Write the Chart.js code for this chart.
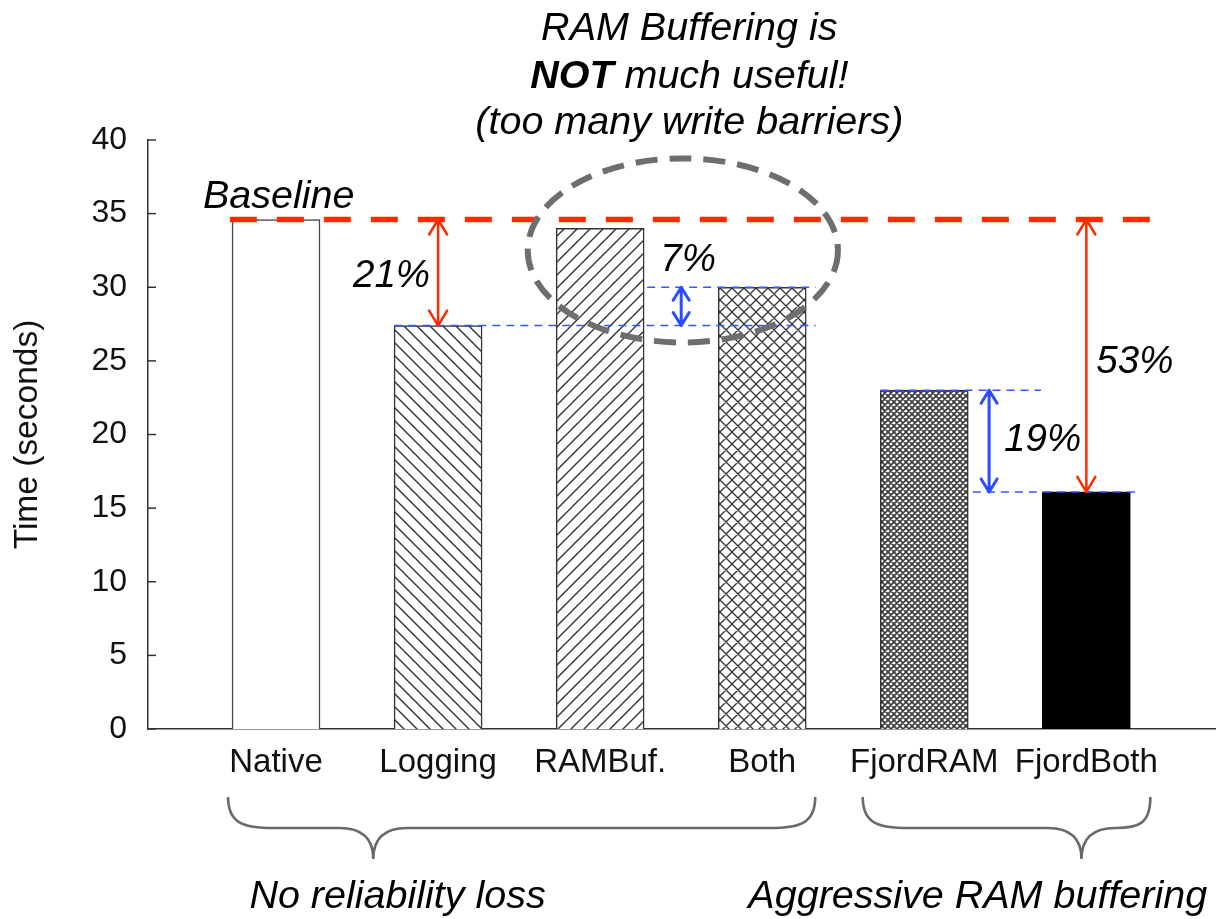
<!DOCTYPE html>
<html>
<head>
<meta charset="utf-8">
<script src="https://cdn.jsdelivr.net/npm/chart.js@4"></script>
<style>
  html, body { margin: 0; padding: 0; background: #fff; }
</style>
</head>
<body>
<canvas id="c" width="1216" height="919"></canvas>
<script>
// data
const categories = ['Native', 'Logging', 'RAMBuf.', 'Both', 'FjordRAM', 'FjordBoth'];
const times = [34.6, 27.4, 34.0, 30.0, 23.0, 16.1];
const yTicks = [0, 5, 10, 15, 20, 25, 30, 35, 40];
const baseline = times[0];

// arrows between two levels: [label, x position (category units), top value, bottom value]
const redGaps = [['21%', 1, baseline, times[1]], ['53%', 5, baseline, times[5]]];
const blueGaps = [['7%', 2.5, times[3], times[1]], ['19%', 4.4, times[4], times[5]]];
// blue guide lines: [value, from, to] in category units
const guides = [[times[1], 0.73, 3.33], [times[3], 2.29, 3.33], [times[4], 3.73, 4.72], [times[5], 4.30, 5.30]];

const FONT = "'Liberation Sans', Arial, Helvetica, sans-serif";
const ITAL = 'italic 39.5px ' + FONT;

function hatch(kind, s, lw, color, bg) {
  const c = document.createElement('canvas');
  c.width = c.height = s;
  const g = c.getContext('2d');
  g.fillStyle = bg;
  g.fillRect(0, 0, s, s);
  g.strokeStyle = color;
  g.lineWidth = lw;
  g.beginPath();
  for (const k of [-s, 0, s]) {
    if (kind === '/' || kind === 'x') { g.moveTo(k - 2, s + 2); g.lineTo(k + s + 2, -2); }
    if (kind === '\\' || kind === 'x') { g.moveTo(k - 2, -2); g.lineTo(k + s + 2, s + 2); }
  }
  g.stroke();
  return g.createPattern(c, 'repeat');
}

const ctx0 = document.getElementById('c').getContext('2d');
const fills = [
  '#ffffff',
  hatch('\\', 13, 1.4, '#333', '#fff'),
  hatch('/', 13, 1.4, '#333', '#fff'),
  hatch('x', 12, 1.3, '#333', '#fff'),
  hatch('x', 6, 1.6, '#3a3a3a', '#fff'),
  '#000000'
];

function arrow(ctx, x, y1, y2, color, w, hw, hl) {
  ctx.save();
  ctx.strokeStyle = color;
  ctx.lineWidth = w;
  ctx.lineCap = 'round';
  ctx.lineJoin = 'round';
  ctx.beginPath();
  ctx.moveTo(x, y1); ctx.lineTo(x, y2);
  ctx.moveTo(x - hw, y1 + hl); ctx.lineTo(x, y1); ctx.lineTo(x + hw, y1 + hl);
  ctx.moveTo(x - hw, y2 - hl); ctx.lineTo(x, y2); ctx.lineTo(x + hw, y2 - hl);
  ctx.stroke();
  ctx.restore();
}

// one half of a curly brace, from the tip out to an end
function braceHalf(ctx, xt, xe, yTop, yMid, yTip) {
  const dir = Math.sign(xe - xt), side = Math.abs(xe - xt);
  const t = Math.min(34, side / 2), e = Math.min(46, side / 2);
  ctx.moveTo(xt, yTip);
  ctx.bezierCurveTo(xt, yMid + 10, xt + dir * t * 0.35, yMid, xt + dir * t, yMid);
  ctx.lineTo(xe - dir * e, yMid);
  ctx.bezierCurveTo(xe - dir * e * 0.35, yMid, xe, yMid - 4, xe, yTop);
}

function brace(ctx, xl, xr, xt, yTop, yMid, yTip) {
  ctx.beginPath();
  braceHalf(ctx, xt, xl, yTop, yMid, yTip);
  braceHalf(ctx, xt, xr, yTop, yMid, yTip);
  ctx.stroke();
}

const annotations = {
  id: 'annotations',
  afterDatasetsDraw(chart) {
    const { ctx, chartArea: a, scales: { x, y } } = chart;
    const px = v => x.getPixelForValue(v);
    ctx.save();

    // ticks pointing into the plot
    ctx.strokeStyle = '#333';
    ctx.lineWidth = 1.5;
    yTicks.forEach(v => {
      const py = y.getPixelForValue(v);
      ctx.beginPath(); ctx.moveTo(a.left, py); ctx.lineTo(a.left + 8, py); ctx.stroke();
    });

    // blue guides
    ctx.strokeStyle = '#3458ff';
    ctx.lineWidth = 1.5;
    ctx.setLineDash([8, 6]);
    guides.forEach(([v, f, t]) => {
      const py = y.getPixelForValue(v);
      ctx.beginPath(); ctx.moveTo(px(f), py); ctx.lineTo(px(t), py); ctx.stroke();
    });

    // baseline
    const by = y.getPixelForValue(baseline);
    ctx.strokeStyle = '#ff2a00';
    ctx.lineWidth = 5.5;
    ctx.setLineDash([27, 20]);
    ctx.beginPath(); ctx.moveTo(px(-0.285), by); ctx.lineTo(px(5.4), by); ctx.stroke();
    ctx.setLineDash([]);

    // arrows + percentages
    redGaps.forEach(([lab, xv, top, bot]) => {
      arrow(ctx, px(xv), y.getPixelForValue(top), y.getPixelForValue(bot), '#ff2a00', 2.5, 9, 15);
    });
    blueGaps.forEach(([lab, xv, top, bot]) => {
      arrow(ctx, px(xv), y.getPixelForValue(top), y.getPixelForValue(bot), '#2a4bff', 3, 8, 13);
    });
    ctx.font = 'italic 38.5px ' + FONT;
    ctx.fillStyle = '#000';
    ctx.textBaseline = 'alphabetic';
    ctx.textAlign = 'right';
    ctx.fillText(redGaps[0][0], px(redGaps[0][1]) - 8, y.getPixelForValue(30.0));
    ctx.textAlign = 'left';
    ctx.fillText(redGaps[1][0], px(redGaps[1][1]) + 10, y.getPixelForValue(24.2));
    ctx.textAlign = 'center';
    ctx.fillText(blueGaps[0][0], px(blueGaps[0][1]) + 7, y.getPixelForValue(31.1));
    ctx.textAlign = 'left';
    ctx.fillText(blueGaps[1][0], px(blueGaps[1][1]) + 15, y.getPixelForValue(18.9));

    // Baseline label
    ctx.font = ITAL;
    ctx.fillText('Baseline', a.left + 55, by - 12);

    // ellipse around RAMBuf./Both
    const cx = px(2.51), cy = y.getPixelForValue(32.5);
    const rx = px(2.51 + 0.957) - cx, ry = y.getPixelForValue(32.5 - 6.25) - cy;
    ctx.strokeStyle = '#6e6e6e';
    ctx.lineWidth = 6;
    ctx.setLineDash([22, 12]);
    ctx.beginPath(); ctx.ellipse(cx, cy, rx, ry, 0, 0, Math.PI * 2); ctx.stroke();
    ctx.setLineDash([]);

    // title above
    const tx = px(2.55);
    ctx.textAlign = 'center';
    ctx.font = ITAL;
    ctx.fillText('RAM Buffering is', tx, a.top - 100);
    const bold = 'bold italic 39.5px ' + FONT;
    ctx.font = bold; const w1 = ctx.measureText('NOT').width;
    ctx.font = ITAL; const w2 = ctx.measureText(' much useful!').width;
    ctx.textAlign = 'left';
    ctx.font = bold; ctx.fillText('NOT', tx - (w1 + w2) / 2, a.top - 52);
    ctx.font = ITAL; ctx.fillText(' much useful!', tx - (w1 + w2) / 2 + w1, a.top - 52);
    ctx.textAlign = 'center';
    ctx.fillText('(too many write barriers)', tx, a.top - 6);

    // braces and group labels
    ctx.strokeStyle = '#6a6a6a';
    ctx.lineWidth = 2.6;
    brace(ctx, px(-0.296), px(3.327), px(0.6), a.bottom + 68, a.bottom + 99, a.bottom + 130);
    brace(ctx, px(3.62), px(5.395), px(4.97), a.bottom + 68, a.bottom + 99, a.bottom + 130);
    ctx.font = ITAL;
    ctx.fillText('No reliability loss', px(0.75), a.bottom + 179);
    ctx.fillText('Aggressive RAM buffering', px(4.33), a.bottom + 179);

    ctx.restore();
  }
};

new Chart(ctx0, {
  type: 'bar',
  data: {
    datasets: [{
      data: times.map((v, i) => ({ x: i, y: v })),
      backgroundColor: fills,
      borderColor: ['#444', '#333', '#333', '#333', '#333', '#000'],
      borderWidth: 1.5,
      barThickness: 88
    }]
  },
  options: {
    responsive: false,
    animation: false,
    layout: { padding: { top: 140, left: 0, right: 0, bottom: 0 } },
    plugins: { legend: { display: false }, tooltip: { enabled: false } },
    scales: {
      x: {
        type: 'linear',
        offset: false,
        min: -0.79,
        max: 5.8,
        afterBuildTicks: s => { s.ticks = categories.map((c, i) => ({ value: i })); },
        afterFit: s => { s.height = 190; },
        grid: { display: false, drawTicks: false, offset: false },
        border: { display: true, color: '#333', width: 1.5 },
        ticks: {
          padding: 14, autoSkip: false, maxRotation: 0, color: '#111',
          font: { family: FONT, size: 33 },
          callback: v => categories[v]
        }
      },
      y: {
        min: 0,
        max: 40,
        afterBuildTicks: s => { s.ticks = yTicks.map(v => ({ value: v })); },
        afterFit: s => { s.width = 148; },
        grid: { display: false, drawTicks: false },
        border: { display: true, color: '#333', width: 1.5 },
        ticks: { padding: 21, color: '#111', font: { family: FONT, size: 32 } },
        title: {
          display: true, text: 'Time (seconds)', color: '#111',
          font: { family: FONT, size: 33.5 }, padding: { top: 8, bottom: 0 }
        }
      }
    }
  },
  plugins: [annotations]
});
</script>
</body>
</html>
